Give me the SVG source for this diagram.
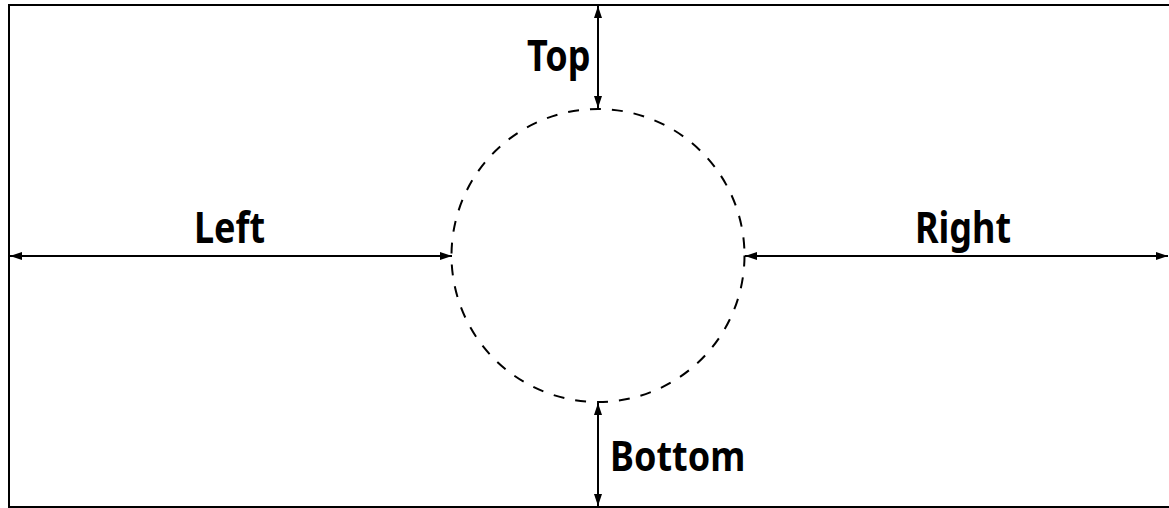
<svg xmlns="http://www.w3.org/2000/svg" width="1169" height="508" viewBox="0 0 1169 508">
<style>
.lbl{font-family:"Noto Sans","Open Sans","DejaVu Sans",sans-serif;font-weight:bold;font-size:36px;fill:#000}
.dim{stroke:#000;stroke-width:2;fill:none}
</style>
<defs>
<marker id="ah" viewBox="0 0 12 8" refX="12" refY="4" markerWidth="12" markerHeight="8" markerUnits="userSpaceOnUse" orient="auto-start-reverse">
<path d="M0,0 L12,4 L0,8 Z" fill="#000"/>
</marker>
</defs>
<rect id="frame" x="9" y="5" width="1170" height="502" fill="#fff" stroke="#000" stroke-width="2"/>
<g id="circle">
<circle cx="598" cy="255.5" r="146.5" fill="none" stroke="#000" stroke-width="2" stroke-dasharray="11,11"/>
</g>
<g id="connectors">
<line class="dim" x1="598" y1="6" x2="598" y2="108" marker-start="url(#ah)" marker-end="url(#ah)"/>
<line class="dim" x1="598" y1="403" x2="598" y2="506" marker-start="url(#ah)" marker-end="url(#ah)"/>
<line class="dim" x1="10" y1="256" x2="452" y2="256" marker-start="url(#ah)" marker-end="url(#ah)"/>
<line class="dim" x1="745" y1="256" x2="1168" y2="256" marker-start="url(#ah)" marker-end="url(#ah)"/>
</g>
<g id="label-top"><text class="lbl" transform="translate(527,71) scale(1,1.17)">Top</text></g>
<g id="label-bottom"><text class="lbl" transform="translate(610,471) scale(1,1.13)">Bottom</text></g>
<g id="label-left"><text class="lbl" transform="translate(194,243) scale(1,1.17)">Left</text></g>
<g id="label-right"><text class="lbl" transform="translate(915,243) scale(1,1.17)">Right</text></g>
</svg>
